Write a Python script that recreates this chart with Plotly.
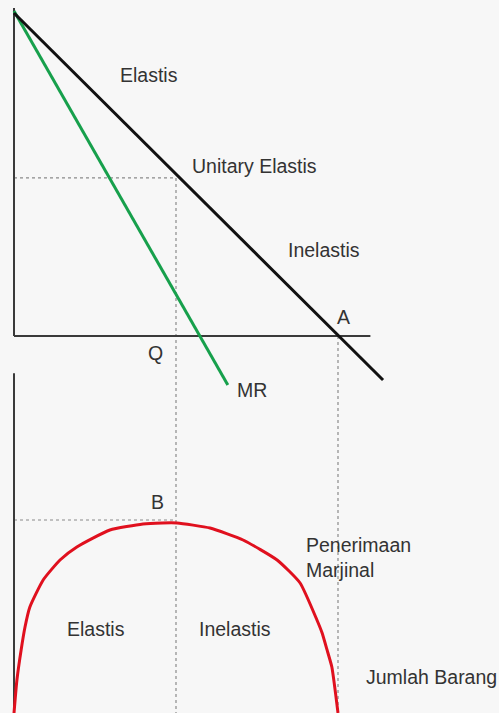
import plotly.graph_objects as go

# Demand (average revenue) line: quantity vs price endpoints
demand_q = [0.0, 11.39]
demand_p = [9.97, -1.36]

# Marginal revenue line
mr_q = [0.0, 6.60]
mr_p = [10.03, -1.51]

# Key points
q_unitary = 5.0        # Q, unit-elastic quantity
p_unitary = 4.88       # price at Q
q_a = 10.0             # A, demand meets the quantity axis
tr_max = 25.0          # B, peak of total revenue

# Total revenue curve (quantity, revenue)
tr_q = [0.0, 0.09, 0.22, 0.34, 0.49, 0.90, 1.42, 1.94, 2.96, 3.98, 4.57,
        5.03, 6.05, 7.07, 8.12, 8.83, 9.35, 9.51, 9.66, 9.81, 10.0]
tr_v = [0.0, 4.27, 8.16, 11.14, 13.73, 17.23, 19.82, 21.50, 23.70, 24.48,
        24.61, 24.61, 23.96, 22.41, 19.82, 16.84, 12.05, 10.36, 8.2, 5.96, 0.0]

# Axis extents
price_axis_top = 10.12
qty_axis_end = 11.0
tr_axis_top = 44.0

X_RANGE = [-0.432, 14.969]
P_RANGE = [-11.636, 10.370]
TR_RANGE = [0.0, 92.36]

AXIS_COLOR = "#3a3a3a"
DOT_COLOR = "#8a8a8a"
TEXT_COLOR = "#333333"
FONT = "Liberation Sans, Arial, sans-serif"

fig = go.Figure()

def seg(x, y, color, width, dash="solid", yaxis="y"):
    fig.add_trace(go.Scatter(x=x, y=y, mode="lines", yaxis=yaxis,
                             line=dict(color=color, width=width, dash=dash),
                             hoverinfo="skip", showlegend=False))

# Guide lines
seg([0, q_unitary], [p_unitary, p_unitary], DOT_COLOR, 1.2, "dot")
seg([q_unitary, q_unitary], [p_unitary, P_RANGE[0]], DOT_COLOR, 1.2, "dot")
seg([q_a, q_a], [0, P_RANGE[0]], DOT_COLOR, 1.2, "dot")
seg([0, q_unitary], [tr_max, tr_max], DOT_COLOR, 1.2, "dot", "y2")

# Axes of the upper panel
seg([0, 0], [0, price_axis_top], AXIS_COLOR, 2)
seg([0, qty_axis_end], [0, 0], AXIS_COLOR, 2)
# Axis of the lower panel
seg([0, 0], [0, tr_axis_top], AXIS_COLOR, 2, yaxis="y2")

# Curves
seg(mr_q, mr_p, "#17a04c", 3)
seg(demand_q, demand_p, "#111111", 3)
fig.add_trace(go.Scatter(x=tr_q, y=tr_v, mode="lines", yaxis="y2",
                         line=dict(color="#e0101e", width=3, shape="spline",
                                   smoothing=0.5),
                         hoverinfo="skip", showlegend=False))

# Labels: (text, x, y, axis, xanchor)
labels = [
    ("Elastis", 4.16, 8.07, "y", "center"),
    ("Unitary Elastis", 7.42, 5.24, "y", "center"),
    ("Inelastis", 9.57, 2.65, "y", "center"),
    ("A", 10.17, 0.60, "y", "center"),
    ("Q", 4.37, -0.51, "y", "center"),
    ("MR", 7.35, -1.68, "y", "center"),
    ("B", 4.44, 27.3, "y2", "center"),
    ("Penerimaan<br>Marjinal", 8.95, 20.1, "y2", "left"),
    ("Elastis", 2.52, 10.9, "y2", "center"),
    ("Inelastis", 6.81, 10.9, "y2", "center"),
    ("Jumlah Barang", 12.9, 4.7, "y2", "center"),
]
for text, x, y, ax, xa in labels:
    fig.add_annotation(text=text, x=x, y=y, xref="x", yref=ax,
                       xanchor=xa, yanchor="middle", showarrow=False,
                       align="left",
                       font=dict(family=FONT, size=19.5, color=TEXT_COLOR))

fig.update_layout(
    width=499, height=713,
    margin=dict(l=0, r=0, t=0, b=0),
    paper_bgcolor="#f7f7f7", plot_bgcolor="#f7f7f7",
    xaxis=dict(range=X_RANGE, visible=False, fixedrange=True),
    yaxis=dict(range=P_RANGE, visible=False, fixedrange=True),
    yaxis2=dict(range=TR_RANGE, visible=False, fixedrange=True,
                overlaying="y"),
    showlegend=False,
)

fig.write_html("out.html", config={"displayModeBar": False})
